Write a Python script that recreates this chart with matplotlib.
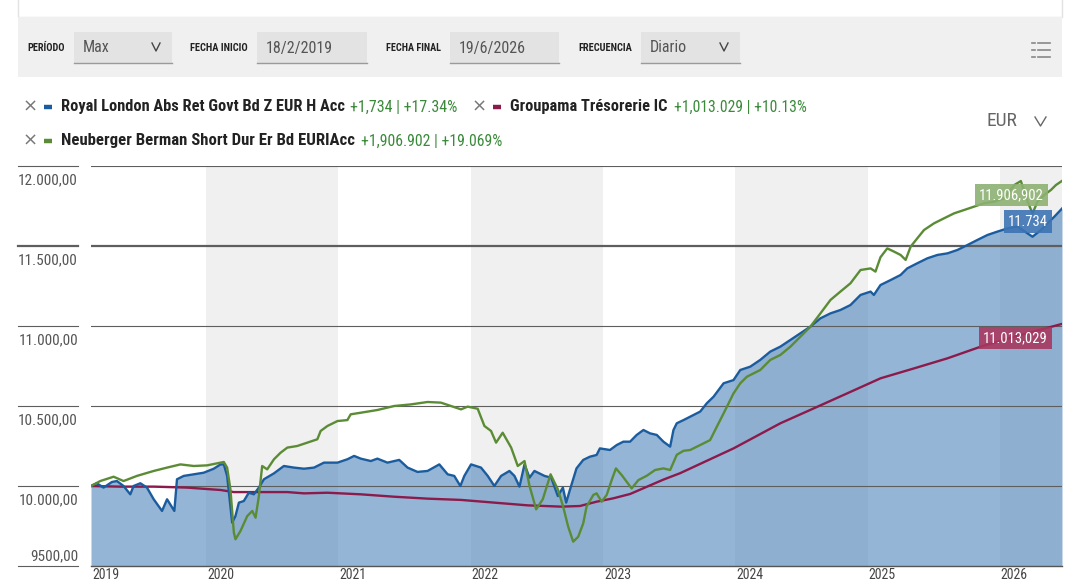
import matplotlib
matplotlib.use('Agg')
import matplotlib.pyplot as plt
from matplotlib import font_manager as fm
from matplotlib.patches import Rectangle
from matplotlib.lines import Line2D
import matplotlib.transforms as mtrans

# ---------------- data (decimal years, values in EUR) ----------------
royal_t = [2019.130, 2019.174, 2019.225, 2019.288, 2019.326, 2019.376, 2019.427, 2019.452, 2019.503,
           2019.553, 2019.604, 2019.667, 2019.705, 2019.760, 2019.780, 2019.831, 2019.907, 2019.982,
           2020.058, 2020.109, 2020.134, 2020.159, 2020.197, 2020.222, 2020.248, 2020.285, 2020.323,
           2020.361, 2020.399, 2020.437, 2020.513, 2020.588, 2020.664, 2020.740, 2020.816, 2020.891,
           2020.993, 2021.068, 2021.119, 2021.169, 2021.245, 2021.295, 2021.371, 2021.460, 2021.523,
           2021.598, 2021.674, 2021.763, 2021.826, 2021.876, 2021.922, 2021.952, 2022.003, 2022.078,
           2022.129, 2022.179, 2022.230, 2022.293, 2022.331, 2022.369, 2022.407, 2022.445, 2022.482,
           2022.558, 2022.609, 2022.659, 2022.697, 2022.722, 2022.750, 2022.800, 2022.851, 2022.901,
           2022.952, 2022.977, 2023.053, 2023.104, 2023.154, 2023.205, 2023.255, 2023.306, 2023.356,
           2023.407, 2023.457, 2023.508, 2023.533, 2023.558, 2023.609, 2023.659, 2023.735, 2023.785,
           2023.836, 2023.912, 2023.987, 2024.038, 2024.114, 2024.189, 2024.265, 2024.341, 2024.417,
           2024.492, 2024.568, 2024.644, 2024.720, 2024.795, 2024.871, 2024.947, 2025.023, 2025.048,
           2025.098, 2025.174, 2025.250, 2025.300, 2025.376, 2025.452, 2025.528, 2025.604, 2025.679,
           2025.755, 2025.831, 2025.907, 2025.982, 2026.058, 2026.134, 2026.210, 2026.247, 2026.311,
           2026.361, 2026.412, 2026.470]
royal_v = [10000, 10017, 9990, 10025, 10031, 10000, 9948, 10000, 10017,
           9990, 9917, 9844, 9917, 9844, 10042, 10063, 10073, 10083,
           10108, 10135, 10135, 10063, 9771, 9812, 9896, 9906, 9958,
           9948, 9990, 10042, 10079, 10125, 10115, 10108, 10115, 10146,
           10146, 10167, 10188, 10171, 10156, 10171, 10146, 10163, 10115,
           10088, 10094, 10135, 10073, 10063, 10000, 10063, 10135, 10115,
           10063, 10000, 10063, 10094, 10063, 9996, 10135, 10052, 10094,
           10063, 10052, 9937, 9990, 9896, 9975, 10110, 10163, 10183,
           10194, 10235, 10225, 10256, 10277, 10277, 10319, 10350, 10329,
           10319, 10277, 10246, 10350, 10392, 10412, 10433, 10465, 10517,
           10558, 10642, 10662, 10725, 10746, 10788, 10840, 10871, 10913,
           10954, 10996, 11048, 11079, 11100, 11131, 11194, 11215, 11194,
           11256, 11287, 11319, 11360, 11392, 11423, 11444, 11454, 11475,
           11506, 11538, 11569, 11590, 11610, 11621, 11579, 11558, 11600,
           11642, 11683, 11734]

groupama_t = [2019.130, 2019.351, 2019.604, 2019.856, 2020.109, 2020.210, 2020.614, 2020.740, 2020.917,
              2021.169, 2021.422, 2021.674, 2021.927, 2022.179, 2022.432, 2022.684, 2022.826, 2022.952,
              2023.078, 2023.205, 2023.331, 2023.457, 2023.583, 2023.987, 2024.341, 2024.593, 2024.846,
              2025.098, 2025.351, 2025.604, 2025.856, 2026.109, 2026.470]
groupama_v = [10000, 9996, 9996, 9990, 9975, 9962, 9962, 9954, 9958,
              9948, 9933, 9921, 9913, 9896, 9879, 9871, 9875, 9902,
              9923, 9950, 9995, 10040, 10080, 10235, 10392, 10485, 10579,
              10673, 10735, 10798, 10871, 10933, 11013.029]

neub_t = [2019.130, 2019.200, 2019.301, 2019.376, 2019.477, 2019.604, 2019.705, 2019.806, 2019.907,
          2020.008, 2020.109, 2020.134, 2020.159, 2020.184, 2020.210, 2020.222, 2020.260, 2020.311,
          2020.349, 2020.374, 2020.399, 2020.424, 2020.462, 2020.513, 2020.563, 2020.614, 2020.689,
          2020.765, 2020.841, 2020.866, 2020.917, 2020.993, 2021.068, 2021.093, 2021.169, 2021.295,
          2021.422, 2021.548, 2021.674, 2021.775, 2021.851, 2021.927, 2021.977, 2022.053, 2022.104,
          2022.154, 2022.192, 2022.242, 2022.306, 2022.356, 2022.407, 2022.445, 2022.495, 2022.545,
          2022.604, 2022.659, 2022.699, 2022.737, 2022.775, 2022.813, 2022.851, 2022.876, 2022.927,
          2022.952, 2022.990, 2023.028, 2023.066, 2023.098, 2023.141, 2023.179, 2023.217, 2023.268,
          2023.331, 2023.394, 2023.457, 2023.508, 2023.558, 2023.609, 2023.659, 2023.735, 2023.810,
          2023.861, 2023.912, 2023.987, 2024.038, 2024.088, 2024.189, 2024.265, 2024.341, 2024.417,
          2024.492, 2024.568, 2024.644, 2024.720, 2024.795, 2024.871, 2024.947, 2025.023, 2025.060,
          2025.098, 2025.149, 2025.200, 2025.250, 2025.288, 2025.326, 2025.376, 2025.427, 2025.503,
          2025.578, 2025.654, 2025.730, 2025.805, 2025.881, 2025.957, 2026.033, 2026.109, 2026.159,
          2026.210, 2026.247, 2026.285, 2026.336, 2026.386, 2026.424, 2026.470]
neub_v = [10000, 10031, 10058, 10031, 10063, 10094, 10115, 10135, 10125,
          10129, 10146, 10150, 10115, 9979, 9708, 9667, 9719, 9812,
          9844, 9802, 9937, 10125, 10104, 10167, 10208, 10240, 10250,
          10271, 10292, 10344, 10375, 10406, 10412, 10448, 10458, 10475,
          10500, 10510, 10525, 10521, 10500, 10479, 10496, 10483, 10375,
          10344, 10271, 10333, 10240, 10125, 10156, 10000, 9854, 9917,
          10073, 9979, 9871, 9746, 9652, 9683, 9767, 9871, 9944,
          9954, 9902, 9944, 10037, 10110, 10069, 10027, 9985, 10037,
          10064, 10100, 10110, 10100, 10195, 10220, 10225, 10256, 10287,
          10371, 10454, 10579, 10642, 10683, 10725, 10788, 10819, 10871,
          10933, 10996, 11079, 11163, 11215, 11267, 11350, 11360, 11340,
          11430, 11485, 11465, 11444, 11413, 11496, 11548, 11600, 11642,
          11673, 11704, 11725, 11746, 11767, 11777, 11798, 11881, 11906,
          11777, 11704, 11777, 11819, 11850, 11881, 11906.902]

series_names = ['Royal London Abs Ret Govt Bd Z EUR H Acc', 'Groupama Trésorerie IC',
                'Neuberger Berman Short Dur Er Bd EURIAcc']
series_changes = ['+1,734 | +17.34%', '+1,013.029 | +10.13%', '+1,906.902 | +19.069%']
end_labels = ['11.734', '11.013,029', '11.906,902']

y_ticks = [9500, 10000, 10500, 11000, 11500, 12000]
y_tick_labels = ['9500,00', '10.000,00', '10.500,00', '11.000,00', '11.500,00', '12.000,00']
x_years = [2019, 2020, 2021, 2022, 2023, 2024, 2025, 2026]
x_year_labels = ['2019', '2020', '2021', '2022', '2023', '2024', '2025', '2026']
shaded_years = [2020, 2022, 2024, 2026]

ctrl_labels = ['PERÍODO', 'FECHA INICIO', 'FECHA FINAL', 'FRECUENCIA']
ctrl_values = ['Max', '18/2/2019', '19/6/2026', 'Diario']
ctrl_dropdown = [True, False, False, True]

# ---------------- fonts ----------------
def has_font(name):
    try:
        fm.findfont(fm.FontProperties(family=name), fallback_to_default=False)
        return True
    except Exception:
        return False

narrow = [f for f in ['Liberation Sans Narrow', 'Roboto Condensed', 'Open Sans Condensed'] if has_font(f)]
plt.rcParams['font.family'] = narrow + ['Liberation Sans', 'DejaVu Sans']

C_BLUE = '#1b5c9e'
C_MAROON = '#8c1a4b'
C_GREEN = '#5b8c35'
C_VAL = '#3b8a3b'
C_GRID = '#5e5e5e'

W, H = 1080, 581
fig = plt.figure(figsize=(W / 100, H / 100), dpi=100)
fig.patch.set_facecolor('white')
renderer = fig.canvas.get_renderer()

bg = fig.add_axes([0, 0, 1, 1])
bg.set_xlim(0, W)
bg.set_ylim(H, 0)
bg.axis('off')


def fit(t, target):
    w = t.get_window_extent(renderer).width
    if w > 0:
        t.set_fontsize(t.get_fontsize() * min(1.15, target / w))
    return t


def width(t):
    return t.get_window_extent(renderer).width

# ---------------- header toolbar ----------------
bg.add_patch(Rectangle((18, -2), 1044, 19, fc='white', ec='#e2e2e2', lw=1))
bg.add_patch(Rectangle((18, 17), 1044, 60, fc='#f0f0f0', ec='none'))

label_x = [27, 190, 386, 578]
box_x = [(74, 172), (257, 367), (450, 559), (641, 740)]
for lab, val, lx, (x0, x1), dd in zip(ctrl_labels, ctrl_values, label_x, box_x, ctrl_dropdown):
    t = bg.text(lx, 48, lab, fontsize=6.6, fontweight='bold', color='#222', va='center', ha='left')
    fit(t, x0 - lx - 10)
    bg.add_patch(Rectangle((x0, 32), x1 - x0, 31, fc='#e3e3e3', ec='none'))
    bg.add_line(Line2D([x0, x1], [63, 63], color='#9a9a9a', lw=1))
    bg.text(x0 + 9, 48, val, fontsize=11.5, color='#555', va='center', ha='left')
    if dd:
        cx = x1 - 16
        bg.add_line(Line2D([cx - 4, cx, cx + 4], [43, 51, 43], color='#444', lw=1))

for yy in (43, 50, 57):
    bg.add_line(Line2D([1032, 1035], [yy, yy], color='#888', lw=1.2))
    bg.add_line(Line2D([1038, 1050], [yy, yy], color='#888', lw=1.2))

# ---------------- legend ----------------
def legend_item(x, y, color, name, change):
    bg.text(x, y, '×', fontsize=13, color='#777', va='center', ha='center', family='DejaVu Sans')
    bg.add_line(Line2D([x + 14, x + 22], [y, y], color=color, lw=3.2, solid_capstyle='butt'))
    t = bg.text(x + 31, y, name, fontsize=10.8, fontweight='bold', color='#222', va='center', ha='left')
    return t

t1 = legend_item(30, 107, C_BLUE, series_names[0], series_changes[0])
fit(t1, 284)
v1 = bg.text(30 + 31 + width(t1) + 5, 107, series_changes[0], fontsize=10.8, color=C_VAL, va='center', ha='left')
fit(v1, 108)
x2 = 30 + 31 + width(t1) + 5 + width(v1) + 22
t2 = legend_item(x2, 107, C_MAROON, series_names[1], series_changes[1])
fit(t2, 157)
v2 = bg.text(x2 + 31 + width(t2) + 6, 107, series_changes[1], fontsize=10.8, color=C_VAL, va='center', ha='left')
fit(v2, 133)
t3 = legend_item(30, 141, C_GREEN, series_names[2], series_changes[2])
fit(t3, 294)
v3 = bg.text(30 + 31 + width(t3) + 6, 141, series_changes[2], fontsize=10.8, color=C_VAL, va='center', ha='left')
fit(v3, 142)

bg.text(987, 121, 'EUR', fontsize=14, color='#666', va='center', ha='left')
bg.add_line(Line2D([1035, 1040.5, 1046], [117, 126, 117], color='#666', lw=1))

# ---------------- main chart ----------------
ax = fig.add_axes([91 / W, 1 - 566 / H, (1062 - 91) / W, (566 - 166) / H])
ax.set_facecolor('white')
for yr in shaded_years:
    ax.axvspan(yr, yr + 1, color='#f0f0f0', lw=0, zorder=0)
ax.fill_between(royal_t, royal_v, y_ticks[0], color='#4f84bb', alpha=0.6, lw=0, zorder=1)
for v in y_ticks[1:]:
    ax.axhline(v, color=C_GRID, lw=1.6 if v == 11500 else 0.8, zorder=2)
ax.plot(groupama_t, groupama_v, color=C_MAROON, lw=1.7, zorder=3)
ax.plot(royal_t, royal_v, color=C_BLUE, lw=1.7, zorder=4)
ax.plot(neub_t, neub_v, color=C_GREEN, lw=1.7, zorder=5)
ax.set_xlim(royal_t[0], royal_t[-1])
ax.set_ylim(y_ticks[0], y_ticks[-1])
ax.set_xticks([])
ax.set_yticks([])
for s in ('top', 'left', 'right'):
    ax.spines[s].set_visible(False)
ax.spines['bottom'].set_color('#555')
ax.spines['bottom'].set_linewidth(1)

# x labels (left aligned at year start, first at data start)
xtr = mtrans.blended_transform_factory(ax.transData, ax.transAxes)
for yr, lab in zip(x_years, x_year_labels):
    xpos = max(yr, royal_t[0])
    ax.annotate(lab, xy=(xpos, 0), xycoords=xtr, xytext=(1, -2), textcoords='offset pixels',
                fontsize=10, color='#444', ha='left', va='top', annotation_clip=False)

# y labels and left tick segments
ytr = mtrans.blended_transform_factory(fig.transFigure, ax.transData)
for v, lab in zip(y_ticks, y_tick_labels):
    ln = Line2D([18 / W, 78 / W], [v, v], transform=ytr, color=C_GRID, lw=1.6 if v == 11500 else 0.8)
    ln.set_clip_on(False)
    fig.add_artist(ln)
    dy = 10 if v == y_ticks[0] else -14
    ax.annotate(lab, xy=(78 / W, v), xycoords=ytr, xytext=(0, dy), textcoords='offset pixels',
                fontsize=11, color='#555', ha='right', va='center', annotation_clip=False)

# end value labels
ends = [(royal_t[-1], royal_v[-1], end_labels[0], '#3d74b4', (-14, -13)),
        (groupama_t[-1], groupama_v[-1], end_labels[1], '#a8385f', (-14, -14)),
        (neub_t[-1], neub_v[-1], end_labels[2], '#8db173', (-18, -14))]
for xv, yv, lab, col, off in ends:
    ax.annotate(lab, xy=(xv, yv), xytext=off, textcoords='offset pixels', fontsize=10.5, color='white',
                ha='right', va='center', zorder=6, annotation_clip=False,
                bbox=dict(boxstyle='square,pad=0.3', fc=col, ec='none', alpha=0.9))

fig.savefig('out.png', dpi=100, facecolor='white')
